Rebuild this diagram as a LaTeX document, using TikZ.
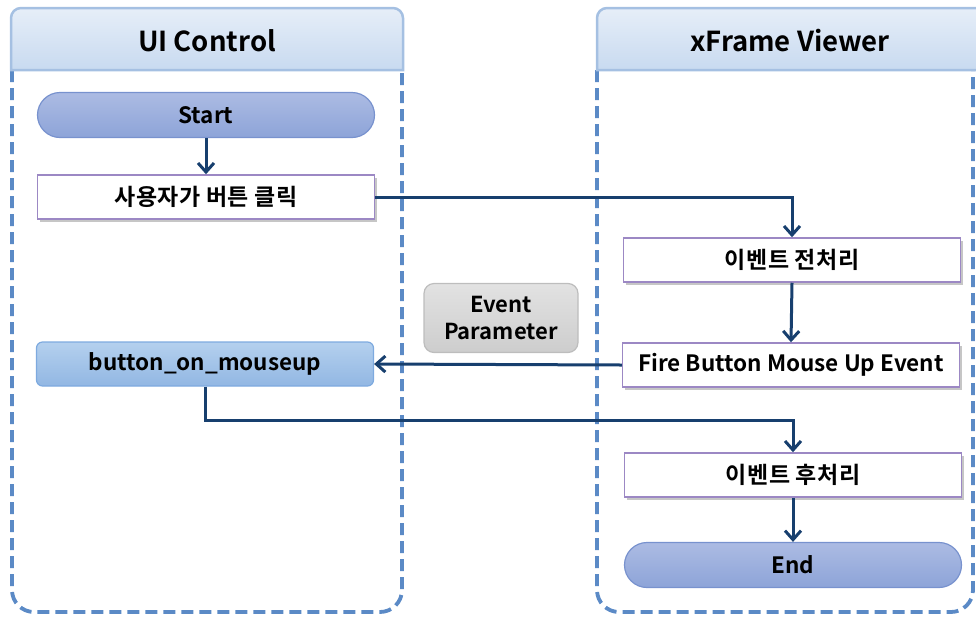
\documentclass[tikz,border=0pt]{standalone}
\usepackage{fontspec}
\setmainfont{Noto Sans CJK KR}[BoldFont={Noto Sans CJK KR Bold}]
\usetikzlibrary{arrows.meta,shadows}
\definecolor{lanedash}{HTML}{5B8AC6}
\definecolor{hdrtop}{HTML}{E6EEF8}
\definecolor{hdrbot}{HTML}{C8DAF0}
\definecolor{hdrline}{HTML}{A5C0E2}
\definecolor{termtop}{HTML}{ACBBE3}
\definecolor{termbot}{HTML}{8DA4D8}
\definecolor{termline}{HTML}{7892CE}
\definecolor{btntop}{HTML}{B4D0EE}
\definecolor{btnbot}{HTML}{92B7E3}
\definecolor{btnline}{HTML}{7EAADF}
\definecolor{procline}{HTML}{9C88C4}
\definecolor{arrowcol}{HTML}{173F6E}
\definecolor{paramtop}{HTML}{E2E2E2}
\definecolor{parambot}{HTML}{CDCDCD}
\definecolor{paramline}{HTML}{BDBDBD}
\tikzset{
  every node/.style={font=\bfseries\fontsize{22.5}{26}\selectfont, text=black},
  terminal/.style={rounded corners=22.5pt, minimum width=337pt, minimum height=45pt,
    top color=termtop, bottom color=termbot, draw=termline, line width=1.2pt},
  procbox/.style={rectangle, minimum width=337pt, minimum height=44pt, fill=white,
    draw=procline, line width=1.5pt,
    drop shadow={shadow xshift=2pt, shadow yshift=-3pt, opacity=0.45, fill=gray}},
  korean/.style={font=\bfseries\fontsize{23}{26}\selectfont\addfontfeatures{LetterSpace=2}},
  btnbox/.style={rounded corners=6pt, minimum width=337pt, minimum height=44pt,
    top color=btntop, bottom color=btnbot, draw=btnline, line width=1.2pt},
  parambox/.style={rounded corners=10pt, minimum width=154pt, minimum height=69pt,
    top color=paramtop, bottom color=parambot, draw=paramline, line width=1.2pt, align=center,
    font=\bfseries\fontsize{22}{27}\selectfont},
  header/.style={rounded corners=10pt, top color=hdrtop, bottom color=hdrbot, draw=hdrline, line width=2.5pt},
  lanebody/.style={draw=lanedash, line width=3.8pt, dash pattern=on 12pt off 6pt, rounded corners=22pt},
  flow/.style={draw=arrowcol, line width=3pt, -{Straight Barb[length=9pt,width=16pt,line width=3pt]}},
  title/.style={font=\bfseries\fontsize{27.5}{32}\selectfont}
}
\begin{document}
\begin{tikzpicture}[x=1pt,y=-1pt]
\useasboundingbox (0,0) rectangle (976,619);
% lanes
\draw[lanebody] (12,70) -- (12,612) -- (402,612) -- (402,70);
\draw[lanebody] (597,70) -- (597,612) -- (973,612) -- (973,70);
\path[header] (11,70) [rounded corners=10pt] -- (11,8) -- (403,8) [sharp corners] -- (403,70) -- cycle;
\path[header] (597,70) [rounded corners=10pt] -- (597,8) -- (990,8) [sharp corners] -- (990,70) -- cycle;
\node[title] (t1) at (207,41) {UI Control};
\node[title] (t2) at (790,41) {xFrame Viewer};
% nodes
\node[terminal] (start) at (206,115) {Start};
\node[procbox, korean] (click) at (206,197) {사용자가 버튼 클릭};
\node[procbox, korean] (pre) at (792,260) {이벤트 전처리};
\node[parambox] (param) at (501,318) {Event\\Parameter};
\node[btnbox] (btn) at (205,364) {button\_on\_mouseup};
\node[procbox] (fire) at (791,365) {Fire Button Mouse Up Event};
\node[procbox, korean] (post) at (793,475) {이벤트 후처리};
\node[terminal] (end) at (793,565) {End};
% connectors
\draw[flow] (start.south) -- (click.north);
\draw[flow] (click.east) -| (pre.north);
\draw[flow] (pre.south) -- (fire.north);
\draw[flow] (fire.west) -- (btn.east);
\coordinate (bend) at (205,420);
\draw[flow] (btn.south) -- (bend) -| (post.north);
\draw[flow] (post.south) -- (end.north);
\end{tikzpicture}
\end{document}
